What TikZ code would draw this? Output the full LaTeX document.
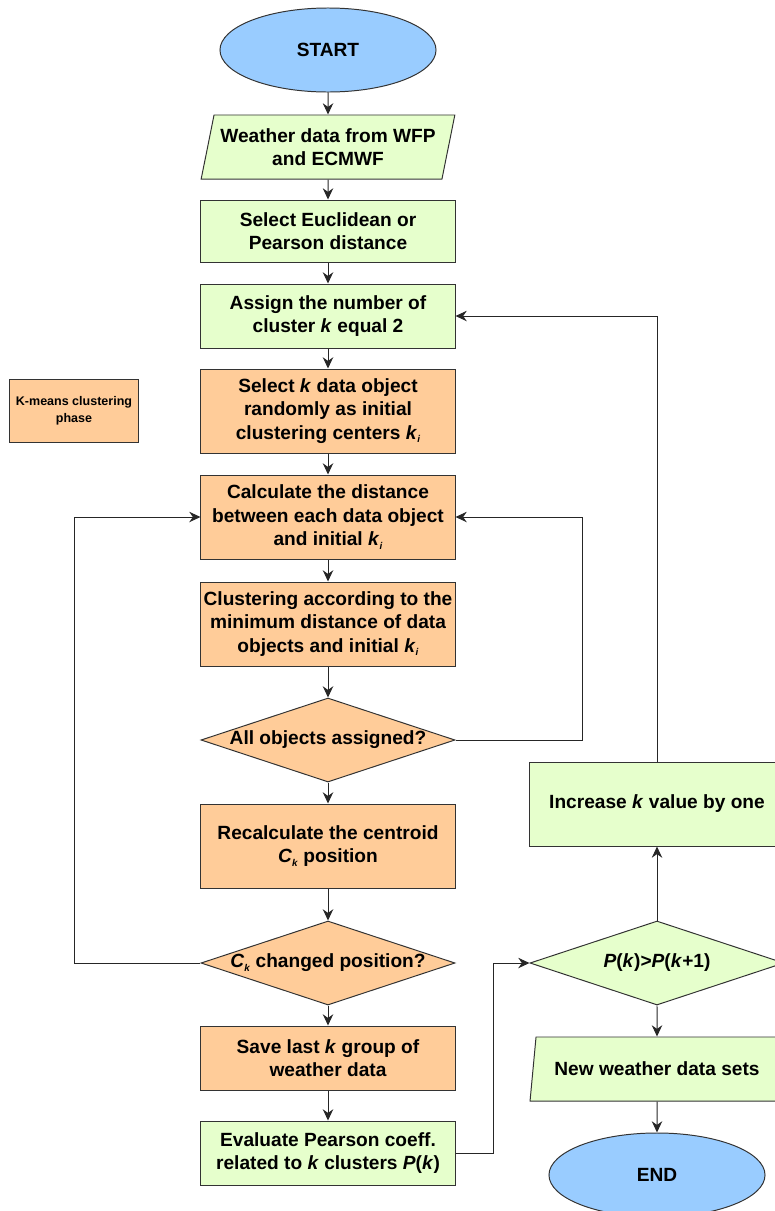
\documentclass[tikz,border=0pt]{standalone}
\usepackage{fontspec}
\setmainfont{Liberation Sans}
\usepackage{xcolor}
\usetikzlibrary{arrows.meta, shapes.geometric, positioning, calc}

\definecolor{fillgreen}{HTML}{E6FFCC}
\definecolor{fillorange}{HTML}{FFCC99}
\definecolor{fillblue}{HTML}{99CCFF}
\definecolor{edgegray}{HTML}{333333}

\tikzset{
    base/.style={draw=edgegray, line width=0.7pt, font=\bfseries\fontsize{13.6}{16.6}\selectfont, align=center, inner sep=1pt},
    terminal/.style={base, ellipse, fill=fillblue, minimum width=5.4cm, minimum height=2.1cm},
    inout/.style={base, trapezium, trapezium left angle=73, trapezium right angle=107, trapezium stretches=true, fill=fillgreen, minimum width=6.35cm, minimum height=1.6cm},
    greenbox/.style={base, rectangle, fill=fillgreen, minimum width=6.35cm, minimum height=1.55cm},
    orangebox/.style={base, rectangle, fill=fillorange, minimum width=6.35cm, minimum height=1.55cm},
    tall/.style={minimum height=2.1cm},
    decision/.style={base, diamond, aspect=3, inner sep=0pt, minimum width=6.35cm, minimum height=2.1cm},
    arrow/.style={draw=black!85, line width=0.7pt, -{Stealth[length=2.8mm, width=2.6mm, inset=0.9mm]}},
}

\newcommand{\kk}{\textit{k}}
\newcommand{\smallsub}[1]{\raisebox{-0.35ex}{\fontsize{7}{7}\selectfont\textit{#1}}}
\newcommand{\ki}{\textit{k}\smallsub{i}}
\newcommand{\ck}{\textit{C}\smallsub{k}}

\begin{document}
\begin{tikzpicture}[x=0.025cm, y=-0.025cm]
    \clip (0,0) rectangle (775,1211);

    % main column
    \node[terminal] (start) at (328,50) {START};
    \node[inout] (data) at (328,147) {Weather data from WFP\\and ECMWF};
    \node[greenbox] (dist) at (328,231) {Select Euclidean or\\Pearson distance};
    \node[greenbox, minimum height=1.6cm] (assign) at (328,316) {Assign the number of\\cluster \kk{} equal 2};
    \node[orangebox, tall] (select) at (328,411) {Select \kk{} data object\\randomly as initial\\clustering centers \ki};
    \node[orangebox, tall] (calc) at (328,517) {Calculate the distance\\between each data object\\and initial \ki};
    \node[orangebox, tall] (clus) at (328,624) {Clustering according to the\\minimum distance of data\\objects and initial \ki};
    \node[decision, fill=fillorange] (assigned) at (328,740) {All objects assigned?};
    \node[orangebox, tall] (recalc) at (328,846) {Recalculate the centroid\\\ck{} position};
    \node[decision, fill=fillorange] (changed) at (328,963) {\ck{} changed position?};
    \node[orangebox, minimum height=1.6cm] (save) at (328,1058) {Save last \kk{} group of\\weather data};
    \node[greenbox, minimum height=1.6cm] (eval) at (328,1153) {Evaluate Pearson coeff.\\related to \kk{} clusters \textit{P}(\kk)};

    % right column
    \node[greenbox, tall] (incr) at (657,804) {Increase \kk{} value by one};
    \node[decision, fill=fillgreen] (cmp) at (657,963) {\textit{P}(\kk)>\textit{P}(\kk+1)};
    \node[inout] (newdata) at (657,1069) {New weather data sets};
    \node[terminal] (end) at (657,1175) {END};

    % legend
    \node[base, rectangle, fill=fillorange, minimum width=3.2cm, minimum height=1.575cm,
          font=\bfseries\fontsize{8.9}{12}\selectfont] (legend) at (74,411) {K-means clustering\\phase};

    \coordinate (rloop) at (582,517);
    \coordinate (lloop) at (74,517);
    \coordinate (bend) at (493,963);

    \draw[arrow] (start) -- (data);
    \draw[arrow] (data) -- (dist);
    \draw[arrow] (dist) -- (assign);
    \draw[arrow] (assign) -- (select);
    \draw[arrow] (select) -- (calc);
    \draw[arrow] (calc) -- (clus);
    \draw[arrow] (clus) -- (assigned);
    \draw[arrow] (assigned) -- (recalc);
    \draw[arrow] (recalc) -- (changed);
    \draw[arrow] (changed) -- (save);
    \draw[arrow] (save) -- (eval);

    \draw[arrow] (assigned.east) -| (rloop) -- (calc.east);
    \draw[arrow] (changed.west) -| (lloop) -- (calc.west);
    \draw[arrow] (eval.east) -| (bend) -- (cmp.west);
    \draw[arrow] (cmp.north) -- (incr.south);
    \draw[arrow] (incr.north) |- (assign.east);
    \draw[arrow] (cmp.south) -- (newdata.north);
    \draw[arrow] (newdata.south) -- (end.north);
\end{tikzpicture}
\end{document}
